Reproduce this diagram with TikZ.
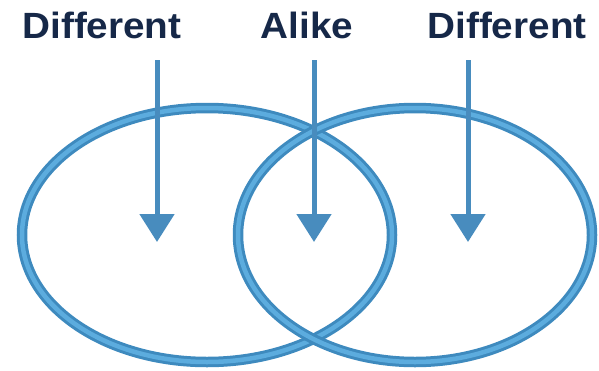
\documentclass[tikz,border=0pt]{standalone}
\usepackage{fontspec}
\setmainfont{Liberation Sans}
\newfontfamily\headfont{Liberation Sans}[FakeStretch=1.06]
\usetikzlibrary{shapes.geometric,arrows.meta}

\definecolor{ringdark}{RGB}{62,138,190}
\definecolor{ringlight}{RGB}{92,172,222}
\definecolor{arrowblue}{RGB}{72,140,190}
\definecolor{navy}{RGB}{22,40,72}

\begin{document}
\begin{tikzpicture}[
    x=1pt, y=-1pt,
    ring/.style={ellipse, draw=ringdark, double=ringlight, line width=3pt, double distance=4.5pt, minimum height=254pt, inner sep=0pt},
    arrow/.style={-{Triangle[width=34pt, length=28pt]}, line width=5pt, draw=arrowblue},
    heading/.style={font=\headfont\fontsize{36.5}{40}\selectfont\bfseries, text=navy, inner sep=0pt, anchor=base},
]
\useasboundingbox (0,0) rectangle (599,370);

% ================== Rings ==================
\node[ring, minimum width=370pt] (leftRing) at (207,235) {};
\node[ring, minimum width=354pt] (rightRing) at (415,235) {};

% ================== Headings ==================
\node[heading] (diffL) at (102,38) {Different};
\node[heading] (alike) at (307,38) {Alike};
\node[heading] (diffR) at (507,38) {Different};

% ================== Arrows ==================
\coordinate (startL) at (157,60);
\coordinate (tipL) at (157,242);
\coordinate (startM) at (314,60);
\coordinate (tipM) at (314,242);
\coordinate (startR) at (468,60);
\coordinate (tipR) at (468,242);

\draw[arrow] (startL) -- (tipL);
\draw[arrow] (startM) -- (tipM);
\draw[arrow] (startR) -- (tipR);

\end{tikzpicture}
\end{document}
